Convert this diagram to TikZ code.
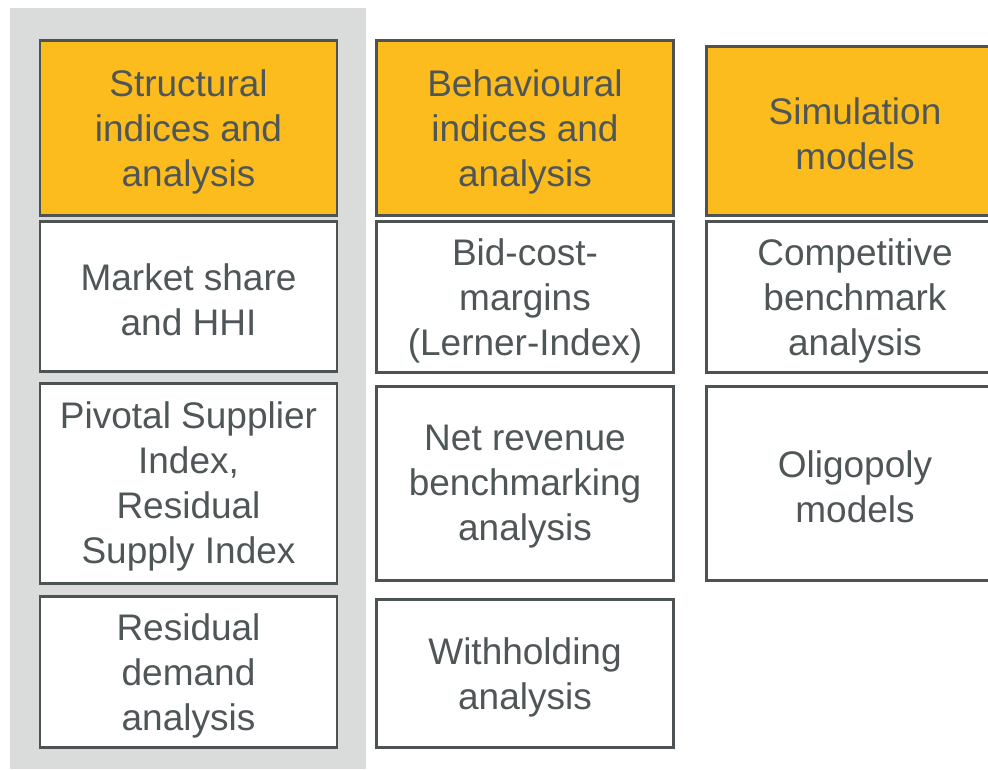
\documentclass[tikz,border=0pt]{standalone}
\usepackage{fontspec}
\setmainfont{Liberation Sans}
\definecolor{hdrfill}{HTML}{FDBC1E}
\definecolor{inkgray}{HTML}{4E5657}
\definecolor{framegray}{HTML}{4D5355}
\definecolor{panelgray}{HTML}{DADCDB}
\begin{document}
\begin{tikzpicture}[x=1pt,y=-1pt,
  cell/.style={draw=framegray, line width=2.3pt, fill=white,
    inner sep=0pt, minimum width=297pt},
  header/.style={cell, fill=hdrfill},
  txt/.style={text=inkgray, align=center, inner sep=0pt,
    font=\fontsize{37}{45}\selectfont}]
  \useasboundingbox (0,0) rectangle (988,769);
  \clip (0,0) rectangle (988,769);
  % shaded panel behind the first column
  \fill[panelgray] (10,8) rectangle (366,769);

  % column 1: structural indices
  \node[header, minimum height=175pt] (s0) at (188.5,128) {};
  \node[cell, minimum height=150pt] (s1) at (188.5,296.5) {};
  \node[cell, minimum height=200pt] (s2) at (188.5,483.5) {};
  \node[cell, minimum height=151pt] (s3) at (188.5,672) {};

  % column 2: behavioural indices
  \node[header, minimum height=175pt] (b0) at (525,128) {};
  \node[cell, minimum height=151pt] (b1) at (525,297) {};
  \node[cell, minimum height=194pt] (b2) at (525,483.5) {};
  \node[cell, minimum height=148pt] (b3) at (525,673.5) {};

  % column 3: simulation models
  \node[header, minimum height=169pt] (m0) at (855,131) {};
  \node[cell, minimum height=151pt] (m1) at (855,297) {};
  \node[cell, minimum height=194pt] (m2) at (855,483.5) {};

  % captions, set slightly below each box centre
  \node[txt] (s0t) at ([yshift=-3.5pt]s0.center) {Structural\\indices and\\analysis};
  \node[txt] (s1t) at ([yshift=-3pt]s1.center) {Market share\\and HHI};
  \node[txt] (s2t) at ([yshift=-3pt]s2.center) {Pivotal Supplier\\Index,\\Residual\\Supply Index};
  \node[txt] (s3t) at ([yshift=-3.5pt]s3.center) {Residual\\demand\\analysis};
  \node[txt] (b0t) at ([yshift=-3.5pt]b0.center) {Behavioural\\indices and\\analysis};
  \node[txt] (b1t) at ([yshift=-3.5pt]b1.center) {Bid-cost-\\margins\\(Lerner-Index)};
  \node[txt] (b2t) at ([yshift=-3.5pt]b2.center) {Net revenue\\benchmarking\\analysis};
  \node[txt] (b3t) at ([yshift=-3.5pt]b3.center) {Withholding\\analysis};
  \node[txt] (m0t) at ([yshift=-3pt]m0.center) {Simulation\\models};
  \node[txt] (m1t) at ([yshift=-3.5pt]m1.center) {Competitive\\benchmark\\analysis};
  \node[txt] (m2t) at ([yshift=-3pt]m2.center) {Oligopoly\\models};
\end{tikzpicture}
\end{document}
